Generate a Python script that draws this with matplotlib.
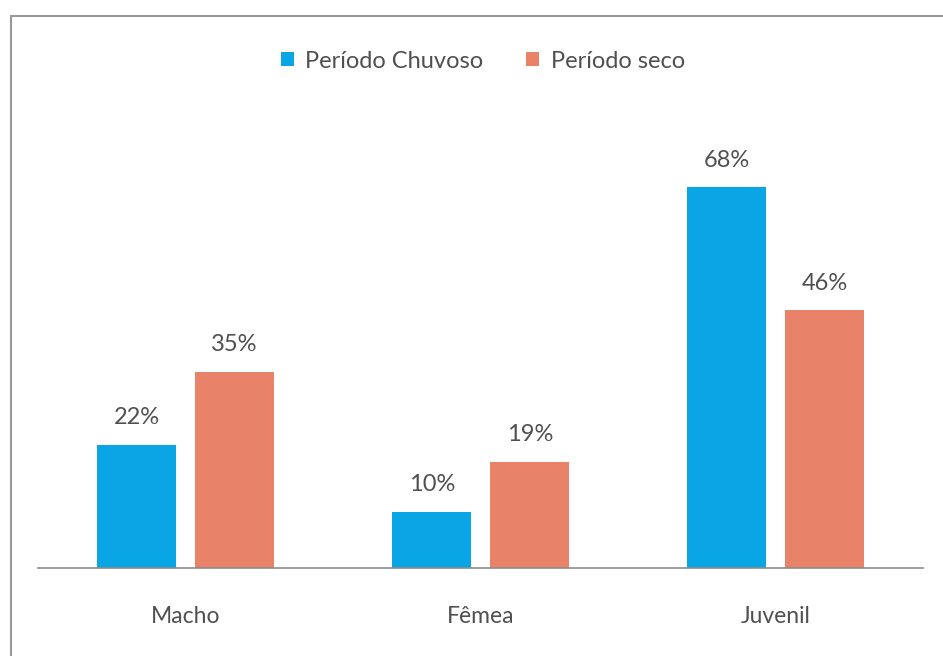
import matplotlib.pyplot as plt
import numpy as np
from matplotlib.patches import Rectangle

categorias = ['Macho', 'Fêmea', 'Juvenil']
chuvoso = [22, 10, 68]
seco = [35, 19, 46]
rotulos_series = ['Período Chuvoso', 'Período seco']

AZUL = '#0aa5e4'
SALMAO = '#e8836a'
TEXTO = '#505050'

plt.rcParams['font.family'] = ['Lato', 'DejaVu Sans']

fig = plt.figure(figsize=(9.43, 6.56), dpi=100)
ax = fig.add_axes([0.0403, 0.134, 0.939, 0.683])

x = np.arange(len(categorias))
largura = 0.268
desloc = 0.166

b1 = ax.bar(x - desloc, chuvoso, largura, color=AZUL, label=rotulos_series[0])
b2 = ax.bar(x + desloc, seco, largura, color=SALMAO, label=rotulos_series[1])

for barras, valores in ((b1, chuvoso), (b2, seco)):
    for barra, v in zip(barras, valores):
        ax.annotate(f'{v}%', (barra.get_x() + barra.get_width() / 2, v),
                    xytext=(0, 12), textcoords='offset points',
                    ha='center', va='bottom', fontsize=17, color=TEXTO)

ax.set_xlim(-0.5, 2.5)
ax.set_ylim(0, 80)
ax.set_xticks(x)
ax.set_xticklabels(categorias, fontsize=16.5, color=TEXTO)
ax.tick_params(axis='x', length=0, pad=27)
ax.set_yticks([])
for lado in ('left', 'right', 'top'):
    ax.spines[lado].set_visible(False)
ax.spines['bottom'].set_color('#8c8c8c')
ax.spines['bottom'].set_linewidth(1.2)

leg = fig.legend(loc='center', bbox_to_anchor=(0.512, 0.907), ncol=2,
                 frameon=False, fontsize=17, handlelength=0.55, handleheight=0.55,
                 handletextpad=0.5, columnspacing=1.8)
for t in leg.get_texts():
    t.set_color(TEXTO)

# moldura externa (só esquerda e topo aparecem)
fig.patches.append(Rectangle((11 / 943, -0.1), 1.2, 1 - 16 / 656 + 0.1,
                             transform=fig.transFigure, fill=False,
                             edgecolor='#999999', linewidth=1.5))

fig.savefig('out.png', dpi=100)
